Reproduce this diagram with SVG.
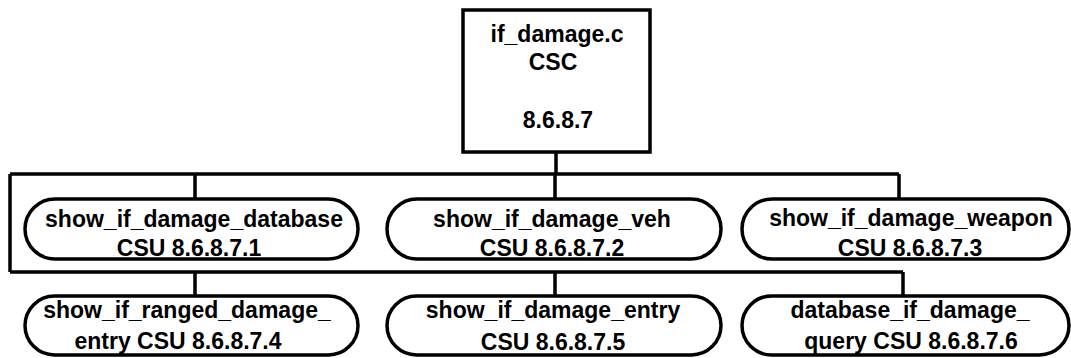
<svg xmlns="http://www.w3.org/2000/svg" width="1071" height="358" viewBox="0 0 1071 358">
<style>
.n{fill:#fff;stroke:#000;stroke-width:3.5}
.c{fill:none;stroke:#000;stroke-width:3.5}
text{font-family:"Liberation Sans",Arial,sans-serif;font-weight:bold;font-size:23px;text-anchor:middle;fill:#000}
</style>
<rect width="1071" height="358" fill="#fff"/>
<g id="connectors">
<path class="c" d="M556,152V174M10,174H899M10,174V272M10,272H903M195,174V199M555,174V199M899,174V199M195,272V296M555,272V296M903,272V296"/>
</g>
<g id="csc">
<rect class="n" x="463" y="10" width="187" height="142"/>
<text x="557" y="42">if_damage.c</text>
<text x="553" y="70">CSC</text>
<text x="558" y="128">8.6.8.7</text>
</g>
<g id="csu1">
<rect class="n" x="25" y="199" width="333" height="60" rx="30"/>
<text x="194" y="227">show_if_damage_database</text>
<text x="189" y="256">CSU 8.6.8.7.1</text>
</g>
<g id="csu2">
<rect class="n" x="387" y="199" width="334" height="60" rx="30"/>
<text x="552" y="227">show_if_damage_veh</text>
<text x="552" y="256">CSU 8.6.8.7.2</text>
</g>
<g id="csu3">
<rect class="n" x="742" y="199" width="327" height="60" rx="30"/>
<text x="911" y="226">show_if_damage_weapon</text>
<text x="910" y="256">CSU 8.6.8.7.3</text>
</g>
<g id="csu4">
<rect class="n" x="25" y="296" width="333" height="59" rx="29.5"/>
<text x="187" y="318">show_if_ranged_damage_</text>
<text x="178" y="349">entry  CSU 8.6.8.7.4</text>
</g>
<g id="csu5">
<rect class="n" x="387" y="296" width="334" height="59" rx="29.5"/>
<text x="553" y="318">show_if_damage_entry</text>
<text x="553" y="350">CSU 8.6.8.7.5</text>
</g>
<g id="csu6">
<rect class="n" x="742" y="296" width="327" height="59" rx="29.5"/>
<text x="910" y="318">database_if_damage_</text>
<text x="911" y="349">query CSU 8.6.8.7.6</text>
</g>
</svg>
